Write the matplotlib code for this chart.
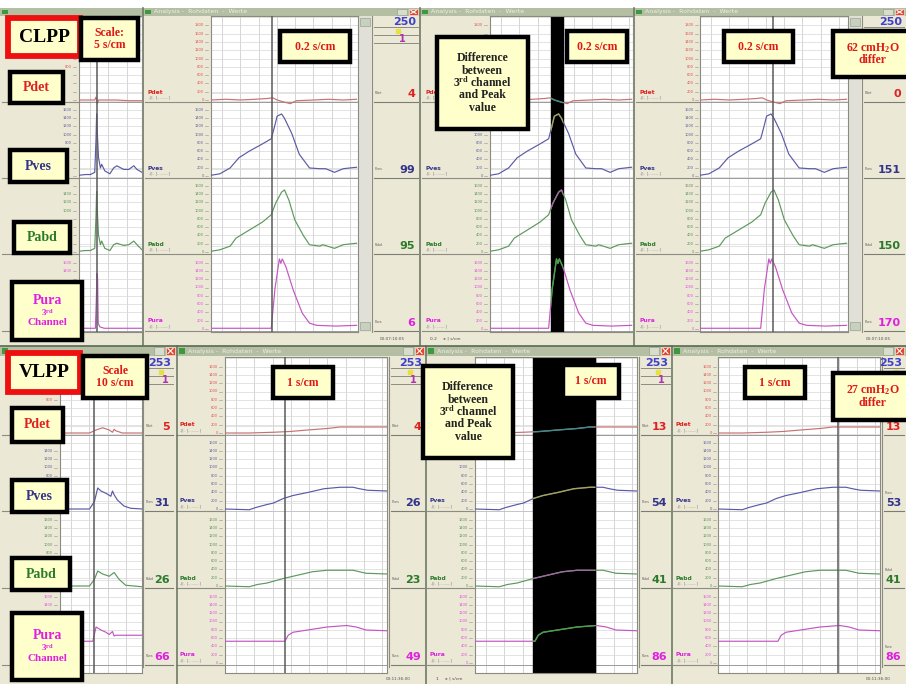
import matplotlib.pyplot as plt
from matplotlib.patches import Rectangle
import numpy as np

plt.rcParams['mathtext.fontset'] = 'custom'
plt.rcParams['mathtext.rm'] = 'Liberation Serif:bold'
plt.rcParams['mathtext.it'] = 'Liberation Serif:bold'
plt.rcParams['mathtext.bf'] = 'Liberation Serif:bold'

W, H = 906, 684

# channel names and colours
channels = ['Pdet', 'Pves', 'Pabd', 'Pura']
trace_colors = ['#c87272', '#5a5aa6', '#5c985c', '#c455c4']
label_colors = ['#e02020', '#33338a', '#2a7a2a', '#e020e0']

# CLPP, zoomed view (0.2 s/cm); x = fraction of window, y = % of channel height
clpp_pdet_x = [0, .10, .20, .30, .38, .42, .45, .50, .54, .58, .70, .80, .90, .99]
clpp_pdet_y = [0, 1, 0, 1, 2, 3, 0, -3, -5, -1, 0, 1, 0, 1]
clpp_pves_x = [0, .06, .13, .19, .26, .35, .41, .43, .45, .48, .50, .55, .60, .67, .74, .78, .84, .90, .99]
clpp_pves_y = [1, 3, 11, 25, 34, 44, 51, 66, 82, 85, 79, 58, 30, 11, 10, 10, 5, 10, 12]
clpp_pabd_x = [0, .06, .13, .17, .26, .35, .41, .44, .48, .50, .53, .57, .63, .67, .74, .76, .84, .90, .99]
clpp_pabd_y = [1, 3, 8, 19, 30, 41, 51, 67, 82, 85, 71, 44, 22, 10, 8, 10, 5, 10, 12]
clpp_pura_x = [0, .20, .41, .435, .465, .475, .485, .51, .56, .62, .67, .72, .85, .99]
clpp_pura_y = [1, 1, 1, 55, 96, 90, 96, 85, 53, 22, 8, 5, 4, 5]

# CLPP, overview (5 s/cm)
clpp_ov_pdet_x = [0, .25, .27, .29, .31, .45, .60, .80, 1.0]
clpp_ov_pdet_y = [0, 0, 4, -5, 0, 0, 0, -1, -1]
clpp_ov_pves_x = [0, .10, .18, .25, .27, .28, .29, .31, .34, .36, .41, .49, .55, .60, .71, .79, .87, .92, 1.0]
clpp_ov_pves_y = [1, 2, 2, 5, 50, 85, 60, 25, 11, 16, 7, 3, 11, 14, 9, 9, 14, 9, 5]
clpp_ov_pabd_x = [0, .10, .18, .25, .27, .28, .29, .31, .34, .36, .41, .49, .55, .60, .71, .79, .87, .92, 1.0]
clpp_ov_pabd_y = [1, 2, 2, 5, 50, 83, 58, 23, 10, 15, 5, 2, 10, 12, 9, 10, 15, 10, 3]
clpp_ov_pura_x = [0, .26, .275, .285, .295, .305, .33, .40, 1.0]
clpp_ov_pura_y = [1, 1, 40, 76, 70, 8, 3, 1, 1]

# VLPP, zoomed view (1 s/cm)
vlpp_pdet_x = [0, .15, .30, .40, .51, .63, .71, .81, 1.0]
vlpp_pdet_y = [0, 0, 1, 2, 4, 6, 8, 8, 8]
vlpp_pves_x = [0, .15, .19, .26, .30, .36, .42, .51, .61, .71, .79, .83, .88, 1.0]
vlpp_pves_y = [0, -1, 2, 6, 8, 14, 18, 22, 27, 29, 29, 27, 25, 24]
vlpp_pabd_x = [0, .15, .20, .26, .36, .44, .54, .63, .79, .87, 1.0]
vlpp_pabd_y = [0, -1, 2, 4, 10, 14, 19, 21, 21, 17, 16]
vlpp_pura_x = [0, .37, .39, .42, .51, .63, .75, .81, .87, 1.0]
vlpp_pura_y = [29, 29, 37, 41, 44, 48, 50, 48, 44, 43]

# VLPP, overview (10 s/cm)
vlpp_ov_pdet_x = [0, .36, .44, .52, .60, .64, .66, .68, .76, 1.0]
vlpp_ov_pdet_y = [0, 0, 4, 7, 4, 1, 5, 3, 0, 0]
vlpp_ov_pves_x = [0, .36, .42, .46, .50, .56, .62, .64, .66, .70, .78, .86, 1.0]
vlpp_ov_pves_y = [0, 0, 10, 28, 24, 21, 17, 24, 19, 12, 4, 1, 0]
vlpp_ov_pabd_x = [0, .36, .42, .46, .52, .60, .66, .72, .80, 1.0]
vlpp_ov_pabd_y = [0, 0, 9, 20, 16, 13, 18, 9, 1, -1]
vlpp_ov_pura_x = [.25, .40, .44, .50, .56, .60, .64, .66, .68, .76, 1.0]
vlpp_ov_pura_y = [29, 29, 48, 44, 41, 38, 42, 36, 37, 37, 37]

# readouts in the value columns
clpp_values_2 = ['4', '99', '95', '6']
clpp_values_4 = ['0', '151', '150', '170']
vlpp_values_1 = ['5', '31', '26', '66']
vlpp_values_2 = ['4', '26', '23', '49']
vlpp_values_3 = ['13', '54', '41', '86']
vlpp_values_4 = ['13', '53', '41', '86']
clpp_vol = '250'
vlpp_vol = '253'

tick_labels = ['0', '200', '400', '600', '800', '1000', '1200', '1400', '1600', '1800', '2000']

BEIGE = '#ebe8d6'
CREAM = '#ffffcc'
RED = '#e01818'
DARK = '#222222'

# annotation boxes: (x0, y0, x1, y1, lines, edge colour, edge width)
diff_lines = [('Difference', DARK, 8.5), ('between', DARK, 8.5), ('3$^{rd}$ channel', DARK, 8.5),
              ('and Peak', DARK, 8.5), ('value', DARK, 8.5)]
boxes = [
    (8, 18, 80, 56, [('CLPP', 'black', 14)], '#ee1010', 4.2),
    (81, 18, 138, 60, [('Scale:', RED, 8.5), ('5 s/cm', RED, 8.5)], 'black', 3.2),
    (10, 72, 63, 103, [('Pdet', label_colors[0], 10)], 'black', 3.2),
    (10, 150, 67, 182, [('Pves', label_colors[1], 10)], 'black', 3.2),
    (14, 222, 70, 253, [('Pabd', label_colors[2], 10)], 'black', 3.2),
    (12, 282, 82, 340, [('Pura', label_colors[3], 10), ('3$^{rd}$', label_colors[3], 6.5),
                        ('Channel', label_colors[3], 8)], 'black', 3.2),
    (280, 31, 350, 62, [('0.2 s/cm', RED, 8.5)], 'black', 3.2),
    (567, 31, 627, 62, [('0.2 s/cm', RED, 8.5)], 'black', 3.2),
    (724, 31, 793, 62, [('0.2 s/cm', RED, 8.5)], 'black', 3.2),
    (437, 37, 528, 129, diff_lines, 'black', 3.2),
    (833, 31, 912, 77, [('62 cmH$_2$O', RED, 8.5), ('differ', RED, 8.5)], 'black', 3.2),
    (8, 353, 80, 392, [('VLPP', 'black', 14)], '#ee1010', 4.2),
    (83, 356, 147, 398, [('Scale', RED, 8.5), ('10 s/cm', RED, 8.5)], 'black', 3.2),
    (12, 408, 63, 442, [('Pdet', label_colors[0], 10)], 'black', 3.2),
    (12, 480, 67, 512, [('Pves', label_colors[1], 10)], 'black', 3.2),
    (12, 558, 70, 590, [('Pabd', label_colors[2], 10)], 'black', 3.2),
    (12, 613, 82, 680, [('Pura', label_colors[3], 10), ('3$^{rd}$', label_colors[3], 6.5),
                        ('Channel', label_colors[3], 8)], 'black', 3.2),
    (273, 367, 333, 398, [('1 s/cm', RED, 8.5)], 'black', 3.2),
    (563, 365, 619, 398, [('1 s/cm', RED, 8.5)], 'black', 3.2),
    (745, 367, 805, 398, [('1 s/cm', RED, 8.5)], 'black', 3.2),
    (423, 366, 513, 458, diff_lines, 'black', 3.2),
    (833, 373, 912, 420, [('27 cmH$_2$O', RED, 8.5), ('differ', RED, 8.5)], 'black', 3.2),
]

fig = plt.figure(figsize=(W / 100, H / 100), dpi=100)
ax0 = fig.add_axes([0, 0, 1, 1])
ax0.set_xlim(0, W)
ax0.set_ylim(H, 0)
ax0.axis('off')


def px_axes(x0, y0, x1, y1, **kw):
    return fig.add_axes([x0 / W, 1 - y1 / H, (x1 - x0) / W, (y1 - y0) / H], **kw)


def rect(ax, x0, y0, x1, y1, fc, ec='none', lw=0, z=1):
    ax.add_patch(Rectangle((x0, y0), x1 - x0, y1 - y0, fc=fc, ec=ec, lw=lw, zorder=z))


def hidden(x, y):
    # True when a point lies under one of the annotation boxes
    for b in boxes:
        if b[0] - 4 <= x <= b[2] + 4 and b[1] - 4 <= y <= b[3] + 4:
            return True
    return False


def invert(c):
    r, g, b = [int(c[i:i + 2], 16) for i in (1, 3, 5)]
    return '#%02x%02x%02x' % (255 - r, 255 - g, 255 - b)


def plot_panel(x0, x1, y0, y1, baselines, chan_h, traces, cursor=None, band=None):
    ax = px_axes(x0, y0, x1, y1)
    ax.set_xlim(0, 1)
    ax.set_ylim(y1, y0)
    ax.set_facecolor('white')
    ax.set_xticks([])
    ax.set_yticks([])
    for s in ax.spines.values():
        s.set_color('#8a8a80')
        s.set_linewidth(0.8)
    step = 18.3 / (x1 - x0)
    for gx in np.arange(step * 0.6, 1, step):
        ax.axvline(gx, color='#cacaca', lw=0.55, zorder=1)
    for b in baselines:
        for k in range(1, 11):
            gy = b - k * 8.3
            if gy > y0:
                ax.axhline(gy, color='#d8d8d8', lw=0.5, zorder=1)
        ax.axhline(b + 1.5, color='#9a9a9a', lw=0.7, zorder=1)
    if band is not None:
        ax.axvspan(band[0], band[1], color='black', zorder=2)
    for i, (xs, vs) in enumerate(traces):
        ys = baselines[i] - np.array(vs) / 100.0 * chan_h
        ax.plot(xs, ys, color=trace_colors[i], lw=0.85, zorder=3)
        if band is not None:
            clip = Rectangle((band[0], y0), band[1] - band[0], y1 - y0,
                             transform=ax.transData, fc='none', ec='none')
            ln, = ax.plot(xs, ys, color=invert(trace_colors[i]), lw=1.0, zorder=4)
            ln.set_clip_path(clip)
    if cursor is not None:
        ax.axvline(cursor, color='#5a5a5a', lw=1.1, zorder=5)
    return ax


def label_col(x0, x1, baselines, top, names=True):
    rect(ax0, x0, top, x1, baselines[-1] + 3, BEIGE, z=2)
    for i, b in enumerate(baselines):
        ax0.plot([x0, x1], [b + 1.5, b + 1.5], color='#8c8c80', lw=0.8, zorder=3)
        lo = top if i == 0 else baselines[i - 1] + 2
        for k, lab in enumerate(tick_labels):
            ty = b - k * 8.3
            if ty < lo + 2:
                break
            ax0.plot([x1 - 5, x1 - 2], [ty, ty], color='#909090', lw=0.4, zorder=4)
            if hidden(x1 - 12, ty):
                continue
            ax0.text(x1 - 6, ty, lab, fontsize=2.6, color=label_colors[i], alpha=0.75,
                     ha='right', va='center', zorder=4)
        if names and not hidden(x0 + 8, b - 8):
            ax0.text(x0 + 3, b - 8, channels[i], fontsize=4.3, fontweight='bold',
                     color=label_colors[i], ha='left', va='center', zorder=4)
            ax0.text(x0 + 4, b - 3, '-||-  [..........]', fontsize=2.4, color='#707070',
                     ha='left', va='center', zorder=4)


def value_col(x0, x1, baselines, top, values, vol):
    rect(ax0, x0, top, x1, baselines[-1] + 4, BEIGE, z=2)
    ax0.plot([x0, x0], [top, baselines[-1] + 4], color='#8c8c80', lw=0.8, zorder=3)
    ax0.text(x1 - 4, top + 6, vol, fontsize=8, fontweight='bold', color='#4040c8',
             ha='right', va='center', zorder=4)
    ax0.plot([x0 + 2, x1 - 2], [top + 11, top + 11], color='#8c8c80', lw=0.7, zorder=3)
    ax0.plot([(x0 + x1) / 2 + 2], [top + 15], marker='s', ms=2.5, color='#e8e040', zorder=4)
    ax0.plot([x0 + 2, x1 - 2], [top + 19, top + 19], color='#8c8c80', lw=0.7, zorder=3)
    if not hidden((x0 + x1) / 2 + 6, top + 23):
        ax0.text((x0 + x1) / 2 + 6, top + 23, '1', fontsize=7, fontweight='bold',
                 color='#b030b0', ha='center', va='center', zorder=4)
    ax0.plot([x0 + 2, x1 - 2], [top + 27, top + 27], color='#8c8c80', lw=0.7, zorder=3)
    narrow = (x1 - x0) < 30
    for i, b in enumerate(baselines):
        ax0.text(x1 - 5, b - 1, values[i], fontsize=8, fontweight='bold',
                 color=label_colors[i], ha='right', va='bottom', zorder=4)
        ax0.text(x0 + 3, b - (16 if narrow else 7), channels[i], fontsize=2.4, color='#606060',
                 va='center', zorder=4)
        ax0.plot([x0 + 2, x1 - 2], [b + 2, b + 2], color='#7c7c70', lw=0.8, zorder=3)


def title_bar(x0, x1, y0, y1, close=True):
    rect(ax0, x0, y0, x1, y1, '#b3bea3', z=5)
    rect(ax0, x0 + 2, y0 + 2, x0 + 8, y1 - 2, '#3c9a3c', z=6)
    if x1 - x0 > 200:
        ax0.text(x0 + 11, (y0 + y1) / 2, 'Analysis -  Rohdaten  -  Werte', fontsize=4.5,
                 color='#eef2e6', va='center', ha='left', zorder=6)
    if close:
        rect(ax0, x1 - 11, y0 + 1, x1 - 2, y1 - 1, '#e04830', ec='#ffffff', lw=0.4, z=7)
        ax0.plot([x1 - 9, x1 - 4], [y0 + 2.5, y1 - 2.5], color='white', lw=0.8, zorder=8)
        ax0.plot([x1 - 9, x1 - 4], [y1 - 2.5, y0 + 2.5], color='white', lw=0.8, zorder=8)
        rect(ax0, x1 - 23, y0 + 1, x1 - 13, y1 - 1, '#d8dccc', ec='#8a9a80', lw=0.4, z=7)


def status_bar(x0, x1, y0, y1, txt, clock):
    rect(ax0, x0, y0, x1, y1, BEIGE, z=5)
    ax0.text(x0 + 10, (y0 + y1) / 2, txt, fontsize=3.2, color='#505050',
             va='center', ha='left', zorder=6)
    ax0.text(x1 - 40, (y0 + y1) / 2, clock, fontsize=3.0, color='#505050',
             va='center', ha='left', zorder=6)


# background
rect(ax0, 0, 0, W, H, BEIGE, z=0)
rect(ax0, 0, 0, W, 8, 'white', z=0)

# ---------------- top row: CLPP ----------------
tb = [100, 176, 252, 329]
ty0, ty1 = 16, 332
for x0, x1 in [(0, 143), (143, 420), (420, 634), (634, W)]:
    title_bar(x0, x1, 8, 16, close=(x1 in (420, W)))
label_col(2, 78, tb, ty0, names=False)
label_col(145, 210, tb, ty0)
label_col(422, 489, tb, ty0)
label_col(636, 700, tb, ty0)
value_col(372, 420, tb, ty0, clpp_values_2, clpp_vol)
value_col(862, W, tb, ty0, clpp_values_4, clpp_vol)
for x0, x1 in [(359, 371), (849, 861)]:
    rect(ax0, x0, ty0, x1, ty1, '#e0e0d8', z=2)
    rect(ax0, x0 + 1, ty0 + 2, x1 - 1, ty0 + 10, '#c8d0c0', ec='#8a9a80', lw=0.4, z=3)
    rect(ax0, x0 + 1, ty1 - 10, x1 - 1, ty1 - 2, '#c8d0c0', ec='#8a9a80', lw=0.4, z=3)

clpp_traces = [(clpp_pdet_x, clpp_pdet_y), (clpp_pves_x, clpp_pves_y),
               (clpp_pabd_x, clpp_pabd_y), (clpp_pura_x, clpp_pura_y)]
clpp_ov_traces = [(clpp_ov_pdet_x, clpp_ov_pdet_y), (clpp_ov_pves_x, clpp_ov_pves_y),
                  (clpp_ov_pabd_x, clpp_ov_pabd_y), (clpp_ov_pura_x, clpp_ov_pura_y)]
plot_panel(79, 142, ty0, ty1, tb, 73, clpp_ov_traces, cursor=0.28)
plot_panel(211, 358, ty0, ty1, tb, 73, clpp_traces, cursor=0.415)
plot_panel(490, 633, ty0, ty1, tb, 73, clpp_traces, band=(0.43, 0.51))
plot_panel(700, 848, ty0, ty1, tb, 73, clpp_traces, cursor=0.493)

status_bar(0, 420, 333, 345, '0.2     \u25b8 | s/cm', '00:07:10:05')
status_bar(420, W, 333, 345, '0.2     \u25b8 | s/cm', '00:07:10:05')

# ---------------- bottom row: VLPP ----------------
bb = [433, 509, 586, 663]
by0, by1 = 357, 673
for x0, x1 in [(0, 177), (177, 426), (426, 672), (672, W)]:
    title_bar(x0, x1, 346, 356)
label_col(2, 59, bb, by0, names=False)
label_col(176, 224, bb, by0)
label_col(427, 474, bb, by0)
label_col(673, 718, bb, by0)
value_col(143, 175, bb, by0, vlpp_values_1, vlpp_vol)
value_col(389, 426, bb, by0, vlpp_values_2, vlpp_vol)
value_col(639, 672, bb, by0, vlpp_values_3, vlpp_vol)
value_col(882, W, bb, by0, vlpp_values_4, vlpp_vol)

vlpp_traces = [(vlpp_pdet_x, vlpp_pdet_y), (vlpp_pves_x, vlpp_pves_y),
               (vlpp_pabd_x, vlpp_pabd_y), (vlpp_pura_x, vlpp_pura_y)]
vlpp_ov_traces = [(vlpp_ov_pdet_x, vlpp_ov_pdet_y), (vlpp_ov_pves_x, vlpp_ov_pves_y),
                  (vlpp_ov_pabd_x, vlpp_ov_pabd_y), (vlpp_ov_pura_x, vlpp_ov_pura_y)]
plot_panel(60, 142, by0, by1, bb, 75, vlpp_ov_traces, cursor=0.42)
plot_panel(225, 387, by0, by1, bb, 75, vlpp_traces, cursor=0.37)
plot_panel(475, 637, by0, by1, bb, 75, vlpp_traces, band=(0.36, 0.74))
plot_panel(718, 880, by0, by1, bb, 75, vlpp_traces, cursor=0.74)

status_bar(0, 426, 674, H, '1     \u25b8 | s/cm', '00:11:36:00')
status_bar(426, W, 674, H, '1     \u25b8 | s/cm', '00:11:36:00')

# window borders
for x, ya, yb in [(143, 8, 345), (420, 8, 345), (634, 8, 345),
                  (177, 346, H), (426, 346, H), (672, 346, H)]:
    ax0.plot([x, x], [ya, yb], color='#6e7a66', lw=1.2, zorder=9)
ax0.plot([0, W], [345.5, 345.5], color='#5a6a52', lw=1.2, zorder=9)

# ---------------- annotation boxes ----------------
ov = fig.add_axes([0, 0, 1, 1], zorder=20)
ov.set_xlim(0, W)
ov.set_ylim(H, 0)
ov.axis('off')
ov.patch.set_alpha(0)


def box(x0, y0, x1, y1, lines, ec='black', lw=3.2):
    rect(ov, x0, y0, x1, y1, CREAM, ec=ec, lw=lw, z=10)
    cy = (y0 + y1) / 2
    hts = [ln[2] * (1.45 if len(lines) > 1 else 1.2) for ln in lines]
    yy = cy - sum(hts) / 2
    for (txt, col, fs), h in zip(lines, hts):
        ov.text((x0 + x1) / 2, yy + h / 2, txt, color=col, fontsize=fs, fontweight='bold',
                family='Liberation Serif', ha='center', va='center', zorder=11)
        yy += h


for x0, y0, x1, y1, lines, ec, lw in boxes:
    box(x0, y0, x1, y1, lines, ec=ec, lw=lw)

fig.savefig('out.png', dpi=100)
